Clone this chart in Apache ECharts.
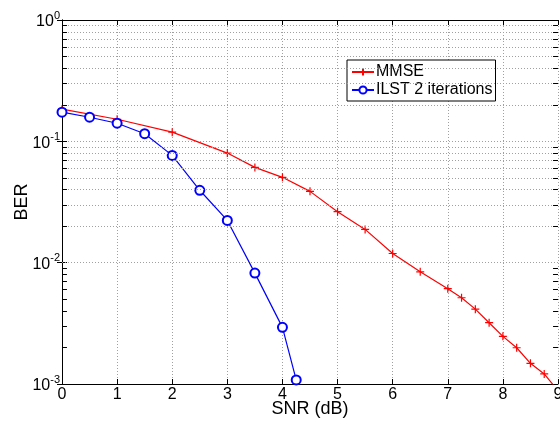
<!DOCTYPE html>
<html>
<head>
<meta charset="utf-8">
<script src="https://cdn.jsdelivr.net/npm/echarts@6/dist/echarts.min.js"></script>
<style>
html,body{margin:0;padding:0;background:#fff;}
#chart{width:560px;height:421px;}
</style>
</head>
<body>
<div id="chart"></div>
<script>
// ---- data ----
var snrMMSE = [0, 1, 2, 3, 3.5, 4, 4.5, 5, 5.5, 6, 6.5, 7, 7.25, 7.5, 7.75, 8, 8.25, 8.5, 8.75, 9];
var berMMSE = [0.184, 0.152, 0.119, 0.080, 0.061, 0.0505, 0.0387, 0.0263, 0.0188, 0.0119, 0.0084, 0.0061, 0.00514, 0.00414, 0.0032, 0.00247, 0.00199, 0.00148, 0.00121, 0.00088];
var snrILST = [0, 0.5, 1, 1.5, 2, 2.5, 3, 3.5, 4, 4.25];
var berILST = [0.174, 0.158, 0.141, 0.1156, 0.0766, 0.0395, 0.0223, 0.0082, 0.00293, 0.00108];
var seriesNames = ['MMSE', 'ILST 2 iterations'];
var xTicks = [0, 1, 2, 3, 4, 5, 6, 7, 8, 9];
var yDecades = [0.001, 0.01, 0.1, 1];
var minorMultipliers = [2, 3, 4, 5, 6, 7, 8, 9];

function pairs(xs, ys) { return xs.map(function (x, i) { return [x, ys[i]]; }); }

var minorVals = [];
for (var d = 0; d < yDecades.length - 1; d++) {
  minorMultipliers.forEach(function (m) { minorVals.push(+(yDecades[d] * m).toPrecision(6)); });
}
var xMin = xTicks[0], xMax = xTicks[xTicks.length - 1];
var tickLenX = 0.09;
var minorLines = minorVals.map(function (v) { return { yAxis: v }; });
var minorTicks = [];
minorVals.forEach(function (v) {
  minorTicks.push([{ coord: [xMin, v] }, { coord: [xMin + tickLenX, v] }]);
  minorTicks.push([{ coord: [xMax - tickLenX, v] }, { coord: [xMax, v] }]);
});

var font = 'Liberation Sans, Arial, Helvetica, sans-serif';
var gridDot = { color: '#a0a0a0', width: 1, type: [1, 2] };

var chart = echarts.init(document.getElementById('chart'), null, { renderer: 'canvas' });
chart.setOption({
  animation: false,
  backgroundColor: '#fff',
  textStyle: { fontFamily: font },
  grid: { left: 62, right: 2, top: 20, bottom: 37, containLabel: false, outerBoundsMode: 'none' },
  legend: {
    data: seriesNames,
    orient: 'vertical',
    left: 347, top: 60,
    backgroundColor: '#fff',
    borderColor: '#000', borderWidth: 1,
    padding: [4, 3, 3, 4],
    itemGap: 2,
    itemWidth: 22, itemHeight: 9,
    textStyle: { fontSize: 16, color: '#000', fontFamily: font, padding: [0, 0, 0, -3] }
  },
  xAxis: [{
    type: 'value', min: xMin, max: xMax, interval: 1,
    name: 'SNR (dB)', nameLocation: 'middle', nameGap: 16, nameMoveOverlap: false,
    nameTextStyle: { fontSize: 18, color: '#000', fontFamily: font },
    axisLine: { lineStyle: { color: '#000', width: 1 } },
    axisTick: { inside: true, length: 5, lineStyle: { color: '#000' } },
    axisLabel: { fontSize: 16, color: '#000', margin: 3, fontFamily: font,
      formatter: function (v) { return xTicks.indexOf(v) >= 0 ? String(v) : ''; } },
    splitLine: { show: true, lineStyle: gridDot }
  }, {
    type: 'value', position: 'top', min: xMin, max: xMax, interval: 1,
    axisLine: { show: true, lineStyle: { color: '#000', width: 1 } },
    axisTick: { show: true, inside: true, length: 5, lineStyle: { color: '#000' } },
    axisLabel: { show: false }, splitLine: { show: false }
  }],
  yAxis: [{
    type: 'log', logBase: 10, min: yDecades[0], max: yDecades[yDecades.length - 1],
    name: 'BER', nameLocation: 'middle', nameGap: 31, nameRotate: 90, nameMoveOverlap: false,
    nameTextStyle: { fontSize: 18, color: '#000', fontFamily: font },
    axisLine: { show: true, lineStyle: { color: '#000', width: 1 } },
    axisTick: { show: true, inside: true, length: 5, lineStyle: { color: '#000' } },
    axisLabel: {
      margin: 2, color: '#000', fontFamily: font,
      formatter: function (v) {
        var e = Math.round(Math.log10(v));
        return '{b|10}{s|' + e + '}';
      },
      rich: {
        b: { fontSize: 16, fontFamily: font, color: '#000', verticalAlign: 'bottom' },
        s: { fontSize: 11, fontFamily: font, color: '#000', verticalAlign: 'bottom', padding: [0, 0, 9, 0] }
      }
    },
    splitLine: { show: true, lineStyle: gridDot }
  }, {
    type: 'log', logBase: 10, position: 'right', min: yDecades[0], max: yDecades[yDecades.length - 1],
    axisLine: { show: true, lineStyle: { color: '#000', width: 1 } },
    axisTick: { show: true, inside: true, length: 5, lineStyle: { color: '#000' } },
    axisLabel: { show: false }, splitLine: { show: false }
  }],
  series: [{
    name: 'grid-minor', type: 'line', data: [], z: 1, silent: true,
    markLine: {
      silent: true, symbol: 'none', label: { show: false }, animation: false,
      lineStyle: gridDot, emphasis: { disabled: true },
      data: minorLines
    }
  }, {
    name: 'tick-minor', type: 'line', data: [], z: 1, silent: true,
    markLine: {
      silent: true, symbol: 'none', label: { show: false }, animation: false,
      lineStyle: { color: '#000', width: 1, type: 'solid' }, emphasis: { disabled: true },
      data: minorTicks
    }
  }, {
    name: seriesNames[0], type: 'line', z: 3,
    data: pairs(snrMMSE, berMMSE),
    symbol: 'path://M0,5L10,5M5,0L5,10', symbolSize: 8,
    itemStyle: { color: '#ff0000', borderColor: '#ff0000', borderWidth: 1.2 },
    lineStyle: { color: '#ff0000', width: 1.2 },
    clip: true
  }, {
    name: seriesNames[1], type: 'line', z: 4,
    data: pairs(snrILST, berILST),
    symbol: 'emptyCircle', symbolSize: 9,
    itemStyle: { color: '#0000ff', borderColor: '#0000ff', borderWidth: 1.3 },
    lineStyle: { color: '#0000ff', width: 1.2 },
    clip: true
  }]
});
</script>
</body>
</html>
